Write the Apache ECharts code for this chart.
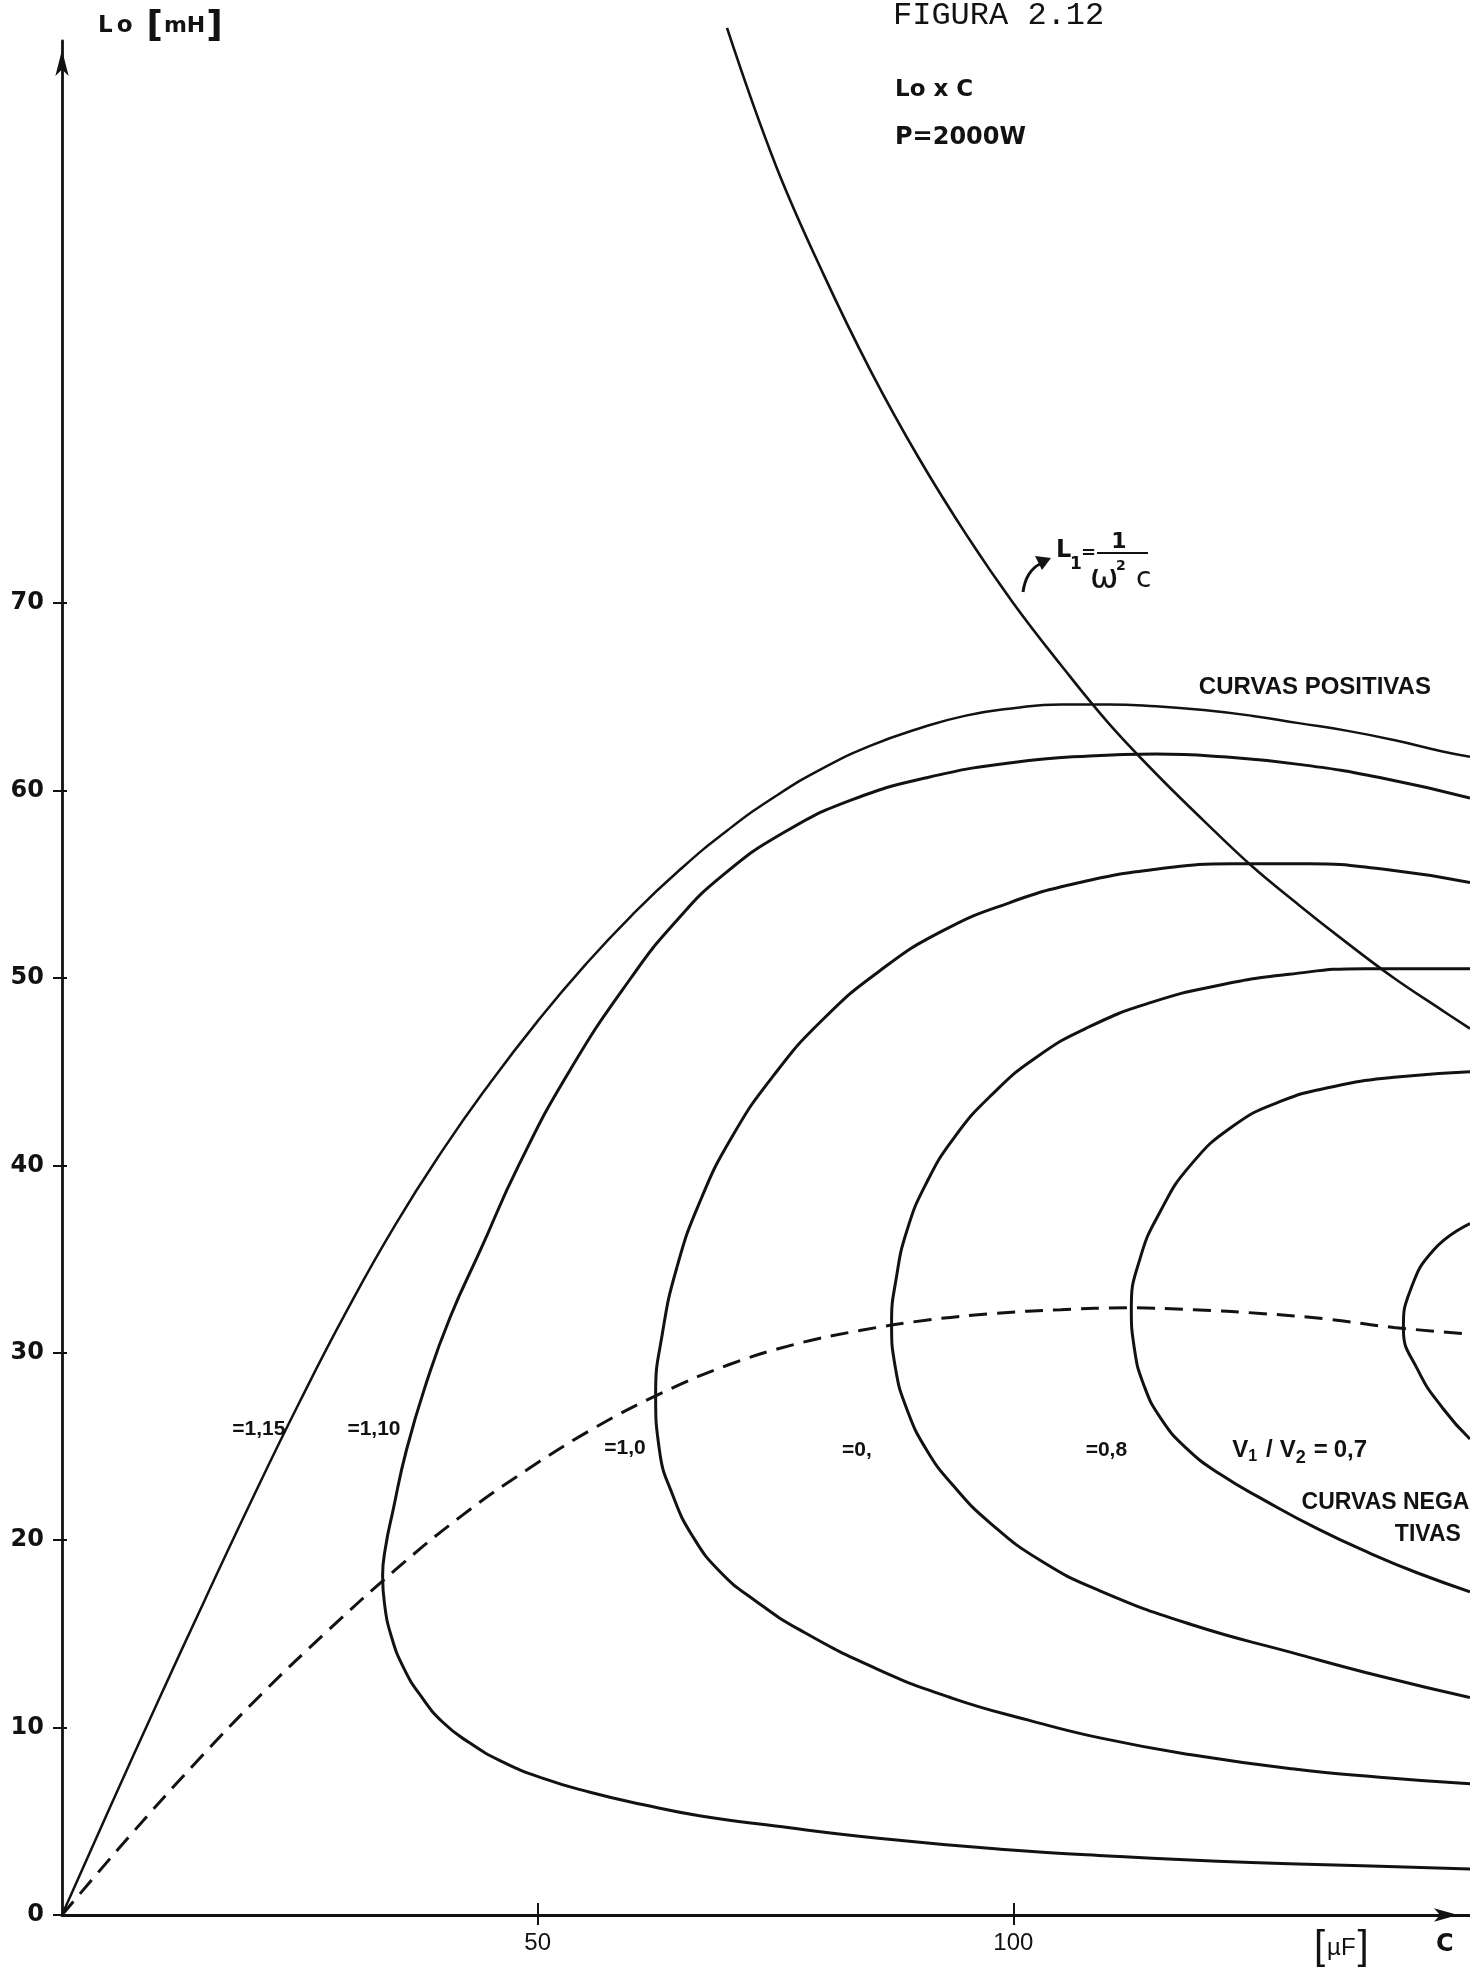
<!DOCTYPE html>
<html lang="pt">
<head>
<meta charset="utf-8">
<title>Figura 2.12 — Lo x C</title>
<script src="https://cdn.jsdelivr.net/npm/echarts@6.0.0/dist/echarts.min.js"></script>
<style>
  html, body { margin: 0; padding: 0; background: #ffffff; }
  #chart { width: 1470px; height: 1967px; }
</style>
</head>
<body>
<div id="chart"></div>
<script>
// Indutância Lo [mH] em função da capacitância C [µF] para P = 2000 W:
// curvas de razão V1/V2 constante, lugar dos pontos de mínima capacitância
// (tracejado) e curva de ressonância L1 = 1/(ω²C).

const xTickValues = [50, 100];
const yTickValues = [0, 10, 20, 30, 40, 50, 60, 70];

// pontos [C (µF), Lo (mH)]
const curveV115 = [[0,0],[5,5.7],[10,11.3],[15,16.8],[20,22.2],[25,27.4],[30,32.3],[35,36.8],[40,40.8],[45,44.4],[50,47.7],[55,50.7],[60,53.4],[65,55.8],[70,57.9],[75,59.7],[80,61.2],[85,62.4],[90,63.3],[95,64.0],[100,64.4],[105,64.6],[110,64.6],[115,64.5],[120,64.3],[125,64.0],[130,63.6],[135,63.2],[140,62.7],[145,62.1],[148,61.8]];
const curveV110 = [[148,2.45],[138.5,2.6],[125,2.8],[110,3.15],[99,3.5],[85.8,4.1],[75,4.75],[67,5.3],[61,5.9],[55.5,6.55],[50.5,7.3],[46.2,8.2],[42.8,9.2],[40.0,10.3],[37.7,11.7],[35.9,13.2],[34.6,14.9],[33.9,16.6],[33.7,18.1],[34.0,19.6],[34.8,21.6],[36.2,24.8],[38.3,28.4],[40.8,31.9],[44.0,35.5],[48.0,40.0],[53.3,45.0],[59.8,50.0],[64.5,53.0],[69.5,55.5],[76,57.8],[83,59.5],[91,60.7],[100,61.5],[108,61.85],[115,61.95],[122,61.8],[130,61.4],[138.5,60.7],[148,59.6]];
const curveV100 = [[148,7.0],[138.5,7.35],[129.3,7.8],[118.7,8.55],[109.1,9.45],[101.6,10.4],[93.7,11.55],[85.8,13.1],[77.6,15.2],[72.8,16.8],[69.2,18.3],[66.3,20.2],[64.2,22.4],[62.8,24.8],[62.4,27.8],[63.1,31.0],[64.6,34.5],[67.0,38.0],[70.4,41.5],[74.8,44.8],[80.0,47.8],[86.0,50.4],[92.5,52.5],[99.5,54.0],[107,55.1],[115,55.8],[123,56.1],[131,56.1],[139,55.8],[148,55.1]];
const curveV090 = [[148,11.6],[138.5,12.75],[129.3,14.0],[118.7,15.5],[109.1,17.3],[102.9,18.9],[97.6,20.9],[93.7,22.9],[90.9,24.8],[88.8,27.0],[87.6,29.2],[87.2,31.6],[87.7,34.0],[88.8,36.5],[90.8,39.0],[93.8,41.5],[97.8,43.8],[102.5,45.8],[108,47.4],[114.5,48.7],[121.5,49.6],[129,50.2],[137,50.5],[148,50.5]];
const curveV080 = [[148,17.25],[142.5,18.25],[137.5,19.3],[132,20.6],[126.5,22.1],[121.8,23.5],[118.2,24.9],[115.5,26.5],[113.7,28.3],[112.7,30.3],[112.4,32.4],[113.3,35.0],[115.4,37.5],[118.6,40.0],[123.1,42.1],[128.0,43.4],[133.6,44.2],[140.0,44.7],[148,45.0]];
const curveV070 = [[148,36.9],[144.2,35.5],[141.7,33.3],[141.0,31.3],[142.5,29.1],[145.2,27.0],[148,25.4]];
const minimumLocus = [[0,0],[7,4.15],[14,8.1],[21,11.8],[28,15.2],[35,18.4],[42,21.3],[49,23.8],[56,26.0],[63,27.85],[70,29.35],[77,30.45],[84,31.2],[91,31.75],[98,32.1],[105,32.3],[112,32.4],[119,32.3],[126,32.1],[133,31.8],[140,31.35],[148,31.0]];
const resonanceL1 = [[69.9,100.7],[75,93.4],[80,87.6],[85,82.4],[90,77.8],[95,73.7],[100,70.0],[105,66.7],[110,63.6],[115,60.9],[120,58.4],[125,56.0],[130,53.9],[135,51.9],[140,50.0],[145,48.3],[148,47.3]];

const INK = '#121212';
const SANS = '"DejaVu Sans", sans-serif';
const LETTER = '"Liberation Sans", Arial, sans-serif';
const MONO = '"Liberation Mono", "DejaVu Sans Mono", monospace';
const X_MAX = 148;
const Y_MAX = 100;

// medição de texto (para compor índices e escolher a família estreita)
const measureCtx = document.createElement('canvas').getContext('2d');
function fontOf(size, weight, family) { return (weight || 'normal') + ' ' + size + 'px ' + family; }
function textWidth(str, font) { measureCtx.font = font; return measureCtx.measureText(str).width; }
function narrowFamily() {
  const probe = '=1,15 CURVAS 100';
  const base = textWidth(probe, 'bold 24px ' + LETTER);
  const fam = '"Liberation Sans Narrow", ' + LETTER;
  if (textWidth(probe, 'bold 24px ' + fam) < base * 0.9) return { family: fam, narrow: true };
  return { family: LETTER, narrow: false };
}
const NARROW = narrowFamily();

function curve(name, data, extra) {
  return Object.assign({
    name: name,
    type: 'line',
    data: data,
    smooth: 0.5,
    symbol: 'none',
    showSymbol: false,
    silent: true,
    z: 3,
    lineStyle: { color: INK, width: 3 }
  }, extra || {});
}

const chart = echarts.init(document.getElementById('chart'));

chart.setOption({
  animation: false,
  backgroundColor: '#ffffff',
  grid: { left: 62, right: 0, top: 41, bottom: 52, containLabel: false, outerBoundsMode: 'none' },
  xAxis: [
    {
      type: 'value', min: 0, max: X_MAX, position: 'bottom',
      axisLine: {
        show: true, onZero: true,
        lineStyle: { color: INK, width: 3.2 },
        symbol: ['none', 'arrow'], symbolSize: [10, 24], symbolOffset: [0, -12]
      },
      axisTick: { show: true, customValues: xTickValues, length: 10, lineStyle: { color: INK, width: 2 } },
      axisLabel: { show: true, customValues: xTickValues, margin: 16, color: INK, fontFamily: NARROW.family, fontSize: NARROW.narrow ? 27 : 24 },
      splitLine: { show: false }
    },
    {
      type: 'value', min: 0, max: X_MAX, position: 'bottom',
      axisLine: { show: false },
      axisTick: { show: true, inside: true, customValues: xTickValues, length: 12, lineStyle: { color: INK, width: 2 } },
      axisLabel: { show: false },
      splitLine: { show: false }
    }
  ],
  yAxis: [
    {
      type: 'value', min: 0, max: Y_MAX, position: 'left',
      axisLine: {
        show: true, onZero: true,
        lineStyle: { color: INK, width: 2.8 },
        symbol: ['none', 'arrow'], symbolSize: [10, 26], symbolOffset: [0, -9]
      },
      axisTick: { show: true, customValues: yTickValues, length: 9, lineStyle: { color: INK, width: 2 } },
      axisLabel: { show: true, customValues: yTickValues, margin: 18, color: INK, fontFamily: SANS, fontWeight: 'bold', fontSize: 24 },
      splitLine: { show: false }
    },
    {
      type: 'value', min: 0, max: Y_MAX, position: 'left',
      axisLine: { show: false },
      axisTick: { show: true, inside: true, customValues: yTickValues, length: 5, lineStyle: { color: INK, width: 2 } },
      axisLabel: { show: false },
      splitLine: { show: false }
    }
  ],
  series: [
    curve('V1/V2 = 1,15', curveV115, { lineStyle: { color: INK, width: 2.5 } }),
    curve('V1/V2 = 1,10', curveV110),
    curve('V1/V2 = 1,0', curveV100),
    curve('V1/V2 = 0,9', curveV090),
    curve('V1/V2 = 0,8', curveV080),
    curve('V1/V2 = 0,7', curveV070),
    curve('mínimo', minimumLocus, { smooth: 0.4, lineStyle: { color: INK, width: 3, type: [18, 10] } }),
    curve('L1 = 1/(ω²C)', resonanceL1, { clip: false, smooth: 0.4, lineStyle: { color: INK, width: 2.6 } })
  ]
});

// ---- texto e anotações ----
function textEl(str, x, y, size, opts) {
  opts = opts || {};
  return {
    type: 'text', silent: true, z: 10,
    style: {
      text: str, x: x, y: y,
      font: fontOf(size, opts.weight, opts.family || LETTER),
      fill: INK, textAlign: opts.align || 'left', textVerticalAlign: opts.valign || 'middle'
    }
  };
}
// sequência de pedaços lado a lado (índices, expoentes)
function textRun(pieces, x, y, family, weight) {
  const out = [];
  let cx = x;
  pieces.forEach(function (p) {
    const f = fontOf(p.size, p.weight || weight, family);
    out.push({
      type: 'text', silent: true, z: 10,
      style: { text: p.t, x: cx, y: y + (p.dy || 0), font: f, fill: INK, textAlign: 'left', textVerticalAlign: 'middle' }
    });
    cx += textWidth(p.t, f) + (p.gap || 0);
  });
  return out;
}
function toPx(c, l) { return chart.convertToPixel({ seriesIndex: 0 }, [c, l]); }

const curveLabels = [
  { text: '=1,15', at: [17.9, 25.9] },
  { text: '=1,10', at: [30.0, 25.9] },
  { text: '=1,0', at: [57.0, 24.9] },
  { text: '=0,', at: [82.0, 24.8] },
  { text: '=0,8', at: [107.6, 24.8] }
];
const labelSize = NARROW.narrow ? 24 : 21;

const graphics = [];

// título e condições
graphics.push(textEl('FIGURA 2.12', 893, 16, 32, { family: MONO }));
graphics.push(textEl('Lo x C', 895, 90, 23, { family: SANS, weight: 'bold' }));
graphics.push(textEl('P=2000W', 895, 138, 24, { family: SANS, weight: 'bold' }));

// nome do eixo vertical
textRun([
  { t: 'L', size: 23, gap: 4 },
  { t: 'o', size: 23, gap: 14 },
  { t: '[', size: 36, gap: 1, dy: 1 },
  { t: 'mH', size: 22, gap: 1 },
  { t: ']', size: 36, dy: 1 }
], 98, 26, SANS, 'bold').forEach(function (g) { graphics.push(g); });

// unidade e nome do eixo horizontal
textRun([
  { t: '[', size: 40, gap: 2 },
  { t: 'µF', size: 24, gap: 2 },
  { t: ']', size: 40 }
], 1314, 1948, LETTER, 'normal').forEach(function (g) { graphics.push(g); });
graphics.push(textEl('C', 1436, 1945, 24, { family: SANS, weight: 'bold' }));

// rótulos das curvas
curveLabels.forEach(function (lb) {
  const p = toPx(lb.at[0], lb.at[1]);
  graphics.push(textEl(lb.text, p[0], p[1], labelSize, { weight: 'bold', family: NARROW.family }));
});

// V1/V2 = 0,7
(function () {
  const p = toPx(123.0, 24.8);
  textRun([
    { t: 'V', size: 24 },
    { t: '1', size: 16, dy: 6, gap: 9 },
    { t: '/', size: 24, gap: 7 },
    { t: 'V', size: 24 },
    { t: '2', size: 18, dy: 8, gap: 8 },
    { t: '=', size: 24, gap: 6 },
    { t: '0,7', size: 24 }
  ], p[0], p[1], LETTER, 'bold').forEach(function (g) { graphics.push(g); });
})();

// CURVAS POSITIVAS / NEGATIVAS
(function () {
  const a = toPx(119.5, 65.5);
  graphics.push(textEl('CURVAS POSITIVAS', a[0], a[1], 24, { weight: 'bold' }));
  const b = toPx(130.3, 22.0);
  graphics.push(textEl('CURVAS NEGA', b[0], b[1], 23, { weight: 'bold' }));
  const c = toPx(140.1, 20.3);
  graphics.push(textEl('TIVAS', c[0], c[1], 23, { weight: 'bold' }));
})();

// fórmula de L1 com seta
graphics.push({
  type: 'bezierCurve', silent: true, z: 10,
  shape: { x1: 1023, y1: 592, x2: 1040, y2: 564, cpx1: 1026, cpy1: 571 },
  style: { stroke: INK, lineWidth: 3, fill: null }
});
graphics.push({
  type: 'polygon', silent: true, z: 10,
  shape: { points: [[1051, 558], [1035, 556], [1042, 570]] },
  style: { fill: INK }
});
graphics.push(textEl('L', 1056, 551, 24, { family: SANS, weight: 'bold' }));
graphics.push(textEl('1', 1070, 565, 17, { family: SANS, weight: 'bold' }));
graphics.push(textEl('=', 1081, 553, 18, { family: SANS, weight: 'bold' }));
graphics.push(textEl('1', 1119, 542, 22, { family: SANS, weight: 'bold', align: 'center' }));
graphics.push({
  type: 'line', silent: true, z: 10,
  shape: { x1: 1097, y1: 553, x2: 1148, y2: 553 },
  style: { stroke: INK, lineWidth: 2 }
});
graphics.push(textEl('ω', 1090, 579, 34, { family: SANS }));
graphics.push(textEl('2', 1116, 566, 14, { family: SANS, weight: 'bold' }));
graphics.push(textEl('c', 1136, 580, 28, { family: SANS }));

chart.setOption({ graphic: { elements: graphics } });
</script>
</body>
</html>
